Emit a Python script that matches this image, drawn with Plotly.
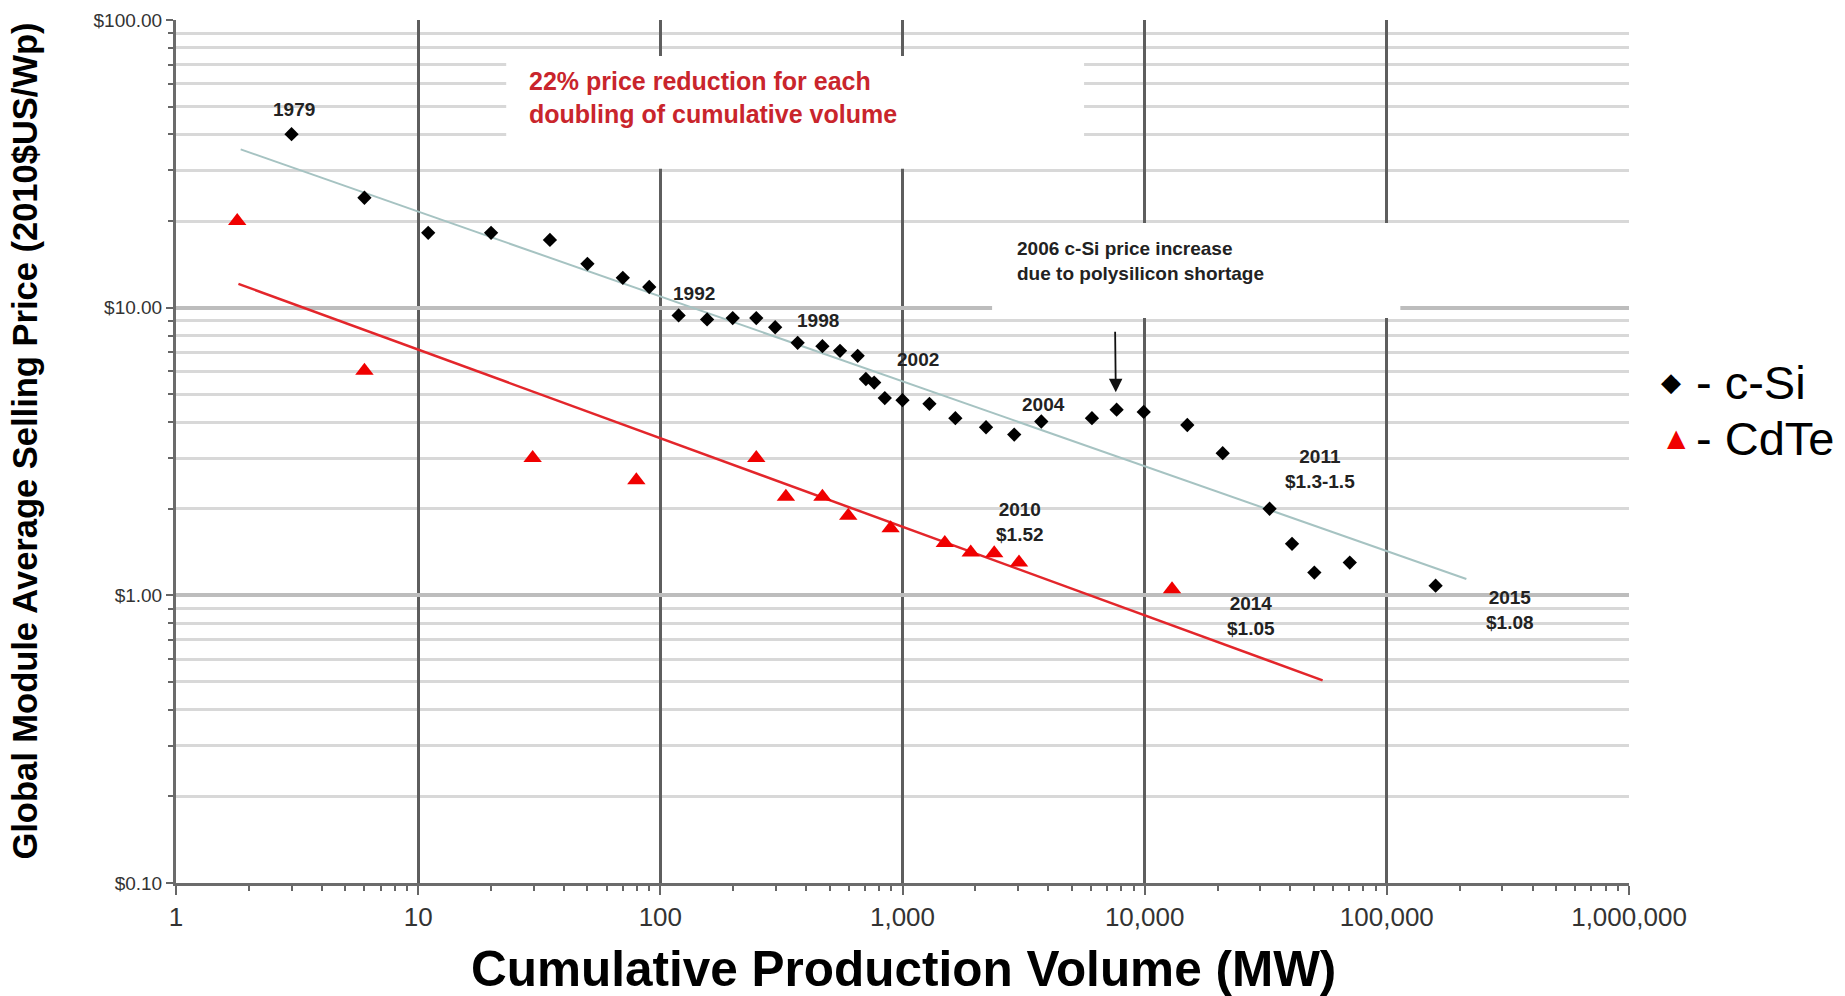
import numpy as np
import plotly.graph_objects as go

# Cumulative production volume (MW) and average selling price (2010 $US/Wp)
csi_mw = [3.0, 6.0, 11, 20, 35, 50, 70, 90, 119, 156, 199, 249, 298, 369, 467, 552,
          653, 706, 764, 845, 1000, 1292, 1653, 2213, 2893, 3743, 6057, 7660, 9910,
          15000, 21000, 32800, 40600, 50200, 70300, 159000]
csi_price = [40.1, 24.1, 18.2, 18.2, 17.2, 14.2, 12.7, 11.8, 9.4, 9.1, 9.2, 9.2, 8.55,
             7.55, 7.35, 7.08, 6.8, 5.65, 5.49, 4.85, 4.77, 4.63, 4.13, 3.84, 3.62, 4.02,
             4.13, 4.42, 4.34, 3.91, 3.12, 2.0, 1.51, 1.20, 1.30, 1.08]

cdte_mw = [1.79, 6.0, 29.7, 79.6, 249, 330, 467, 597, 893, 1495, 1913, 2392, 3027, 12970]
cdte_price = [20.0, 6.03, 3.0, 2.51, 3.0, 2.2, 2.2, 1.89, 1.71, 1.52, 1.41, 1.40, 1.30, 1.05]

# Experience-curve fits (end points)
csi_fit_mw = [1.85, 213000]
csi_fit_price = [35.5, 1.14]
cdte_fit_mw = [1.81, 54300]
cdte_fit_price = [12.1, 0.506]

# Year / price call-outs: (text, MW, price)
point_labels = [
    ("1979", 3.06, 48.9),
    ("1992", 137.8, 11.2),
    ("1998", 446.7, 9.04),
    ("2002", 1156, 6.63),
    ("2004", 3832, 4.59),
    ("2011<br>$1.3-1.5", 53200, 2.76),
    ("2010<br>$1.52", 3064, 1.805),
    ("2014<br>$1.05", 27500, 0.849),
    ("2015<br>$1.08", 322800, 0.890),
]

# Key entries: (symbol glyph, colour, label)
key_entries = [("◆", "black", "- c-Si"), ("▲", "#f00000", "- CdTe")]

FONT = "Liberation Sans, Arial, sans-serif"
SYMBOL_FONT = "DejaVu Sans, sans-serif"

fig = go.Figure()

fig.add_trace(go.Scatter(x=csi_fit_mw, y=csi_fit_price, mode="lines",
                         line=dict(color="#a6c3c2", width=2), showlegend=False,
                         hoverinfo="skip"))
fig.add_trace(go.Scatter(x=cdte_fit_mw, y=cdte_fit_price, mode="lines",
                         line=dict(color="#e3262b", width=2.5), showlegend=False,
                         hoverinfo="skip"))

fig.add_trace(go.Scatter(x=csi_mw, y=csi_price, mode="markers", name="c-Si",
                         marker=dict(symbol="diamond", size=11, color="black"),
                         showlegend=False))
fig.add_trace(go.Scatter(x=cdte_mw, y=cdte_price, mode="markers", name="CdTe",
                         marker=dict(symbol="triangle-up", size=16, color="#f00000"),
                         showlegend=False))

# White text boxes sitting over the grid
fig.add_shape(type="rect", xref="x", yref="y", x0=23.1, x1=5620, y0=30.4, y1=75.0,
              fillcolor="white", line=dict(width=0), layer="between")
fig.add_shape(type="rect", xref="x", yref="y", x0=2344, x1=113700, y0=9.2, y1=19.7,
              fillcolor="white", line=dict(width=0), layer="between")

annotations = []
for text, mx, py in point_labels:
    annotations.append(dict(text="<b>" + text + "</b>", x=np.log10(mx), y=np.log10(py),
                            xref="x", yref="y", showarrow=False,
                            xanchor="center", yanchor="middle",
                            font=dict(family=FONT, size=19, color="#222222")))

annotations.append(dict(text="<b>22% price reduction for each<br>doubling of cumulative volume</b>",
                        x=np.log10(28.1), y=np.log10(53.7), xref="x", yref="y",
                        showarrow=False, xanchor="left", yanchor="middle", align="left",
                        font=dict(family=FONT, size=25, color="#c9252c")))
annotations.append(dict(text="<b>2006 c-Si price increase<br>due to polysilicon shortage</b>",
                        x=np.log10(2916), y=np.log10(14.5), xref="x", yref="y",
                        showarrow=False, xanchor="left", yanchor="middle", align="left",
                        font=dict(family=FONT, size=19, color="#222222")))
# Arrow pointing at the 2006 price bump
annotations.append(dict(text="", x=np.log10(7600), y=np.log10(5.08),
                        ax=np.log10(7550), ay=np.log10(8.35), axref="x", ayref="y",
                        xref="x", yref="y", showarrow=True, arrowhead=2, arrowsize=1.5,
                        arrowwidth=1.8, arrowcolor="#111111"))

# Key to the right of the plot area
key_rows_y = [0.5805, 0.5156]
symbol_x = [1.0289, 1.0330]
symbol_size = [26, 24]
for (glyph, colour, label), ky, sx, ss in zip(key_entries, key_rows_y, symbol_x, symbol_size):
    annotations.append(dict(text=glyph, x=sx, y=ky, xref="paper", yref="paper",
                            showarrow=False, xanchor="center", yanchor="middle",
                            font=dict(family=SYMBOL_FONT, size=ss, color=colour)))
    annotations.append(dict(text=label, x=1.0447, y=ky, xref="paper", yref="paper",
                            showarrow=False, xanchor="left", yanchor="middle",
                            font=dict(family=FONT, size=47, color="black")))

annotations.append(dict(text="<b>Cumulative Production Volume (MW)</b>",
                        x=0.501, y=-0.099, xref="paper", yref="paper", showarrow=False,
                        xanchor="center", yanchor="middle",
                        font=dict(family=FONT, size=49.5, color="black")))
annotations.append(dict(text="<b>Global Module Average Selling Price (2010$US/Wp)</b>",
                        x=-0.1036, y=0.512, xref="paper", yref="paper", showarrow=False,
                        textangle=-90, xanchor="center", yanchor="middle",
                        font=dict(family=FONT, size=34.5, color="black")))

fig.update_layout(
    width=1845, height=996,
    margin=dict(l=176, r=216, t=20, b=113, autoexpand=False),
    paper_bgcolor="white", plot_bgcolor="white",
    showlegend=False,
    annotations=annotations,
    xaxis=dict(type="log", range=[0, 6], dtick=1, tickformat=",d",
               tickfont=dict(family=FONT, size=26, color="#333333"),
               showgrid=True, gridcolor="#5e5e5e", gridwidth=2.5,
               ticks="outside", ticklen=9, tickwidth=2, tickcolor="#666666",
               minor=dict(dtick="D1", ticks="outside", ticklen=5, tickwidth=2,
                          tickcolor="#666666", showgrid=False),
               showline=True, linecolor="#6b6b6b", linewidth=3, zeroline=False),
    yaxis=dict(type="log", range=[-1, 2], dtick=1, tickprefix="$", tickformat=".2f",
               tickfont=dict(family=FONT, size=19, color="#333333"),
               showgrid=True, gridcolor="#bdbdbd", gridwidth=3.5,
               ticks="outside", ticklen=7, tickwidth=2, tickcolor="#666666",
               minor=dict(dtick="D1", ticks="outside", ticklen=5, tickwidth=2,
                          tickcolor="#666666", showgrid=True, gridcolor="#d8d8d8",
                          gridwidth=2.5),
               showline=True, linecolor="#6b6b6b", linewidth=3, zeroline=False),
)

fig.write_html("out.html")
